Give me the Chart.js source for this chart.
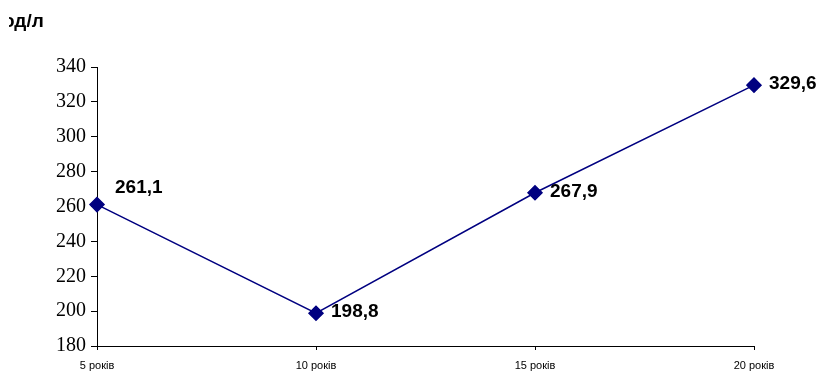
<!DOCTYPE html>
<html>
<head>
<meta charset="utf-8">
<script src="https://cdn.jsdelivr.net/npm/chart.js@4/dist/chart.umd.min.js"></script>
<style>
  html, body { margin: 0; padding: 0; background: #fff; }
  #wrap { width: 819px; height: 374px; position: relative; }
</style>
</head>
<body>
<div id="wrap"><canvas id="c" width="819" height="374"></canvas></div>
<script>
const categories = ['5 років', '10 років', '15 років', '20 років'];
const values = [261.1, 198.8, 267.9, 329.6];
const valueLabels = ['261,1', '198,8', '267,9', '329,6'];
const yTicks = [180, 200, 220, 240, 260, 280, 300, 320, 340];
const unitTitle = 'од/л';

const labelPlugin = {
  id: 'labels',
  afterDatasetsDraw(chart) {
    const ctx = chart.ctx;
    const meta = chart.getDatasetMeta(0);
    ctx.save();
    ctx.font = 'bold 19px "Liberation Sans", Arial, sans-serif';
    ctx.fillStyle = '#000';
    ctx.textBaseline = 'middle';
    ctx.textAlign = 'left';
    meta.data.forEach((pt, i) => {
      const dx = i === 0 ? 18 : 15;
      const dy = i === 0 ? -17 : -1;
      ctx.fillText(valueLabels[i], pt.x + dx, pt.y + dy);
    });
    ctx.beginPath();
    ctx.rect(9, 0, 120, 40);
    ctx.clip();
    ctx.font = 'bold 19px "Liberation Sans", Arial, sans-serif';
    ctx.textBaseline = 'alphabetic';
    ctx.fillText(unitTitle, 3, 27);
    ctx.restore();
  }
};

new Chart(document.getElementById('c'), {
  type: 'line',
  data: {
    labels: categories,
    datasets: [{
      data: values,
      borderColor: '#000080',
      backgroundColor: '#000080',
      borderWidth: 1.5,
      pointStyle: 'rectRot',
      pointRadius: 7,
      pointHoverRadius: 7,
      pointBackgroundColor: '#000080',
      pointBorderColor: '#000080',
      tension: 0,
      fill: false
    }]
  },
  options: {
    responsive: false,
    animation: false,
    events: [],
    layout: { padding: { top: 67, right: 65, bottom: 0, left: 0 } },
    plugins: { legend: { display: false }, tooltip: { enabled: false }, title: { display: false } },
    scales: {
      x: {
        type: 'category',
        offset: false,
        grid: { drawOnChartArea: false, drawTicks: true, tickLength: 4, color: '#000', lineWidth: 1 },
        border: { display: true, color: '#000', width: 1 },
        ticks: {
          color: '#000',
          font: { family: '"Liberation Sans Narrow", "Liberation Sans", Arial, sans-serif', size: 11 },
          padding: 9,
          maxRotation: 0,
          autoSkip: false
        },
        afterFit(scale) { scale.height = 28; }
      },
      y: {
        min: 180,
        max: 340,
        afterBuildTicks(scale) { scale.ticks = yTicks.map(v => ({ value: v })); },
        grid: { drawOnChartArea: false, drawTicks: true, tickLength: 6, color: '#000', lineWidth: 1 },
        border: { display: true, color: '#000', width: 1 },
        ticks: {
          color: '#000',
          font: { family: '"Liberation Serif", "Times New Roman", serif', size: 20 },
          padding: 5
        },
        afterFit(scale) { scale.width = 97; }
      }
    }
  },
  plugins: [labelPlugin]
});
</script>
</body>
</html>
